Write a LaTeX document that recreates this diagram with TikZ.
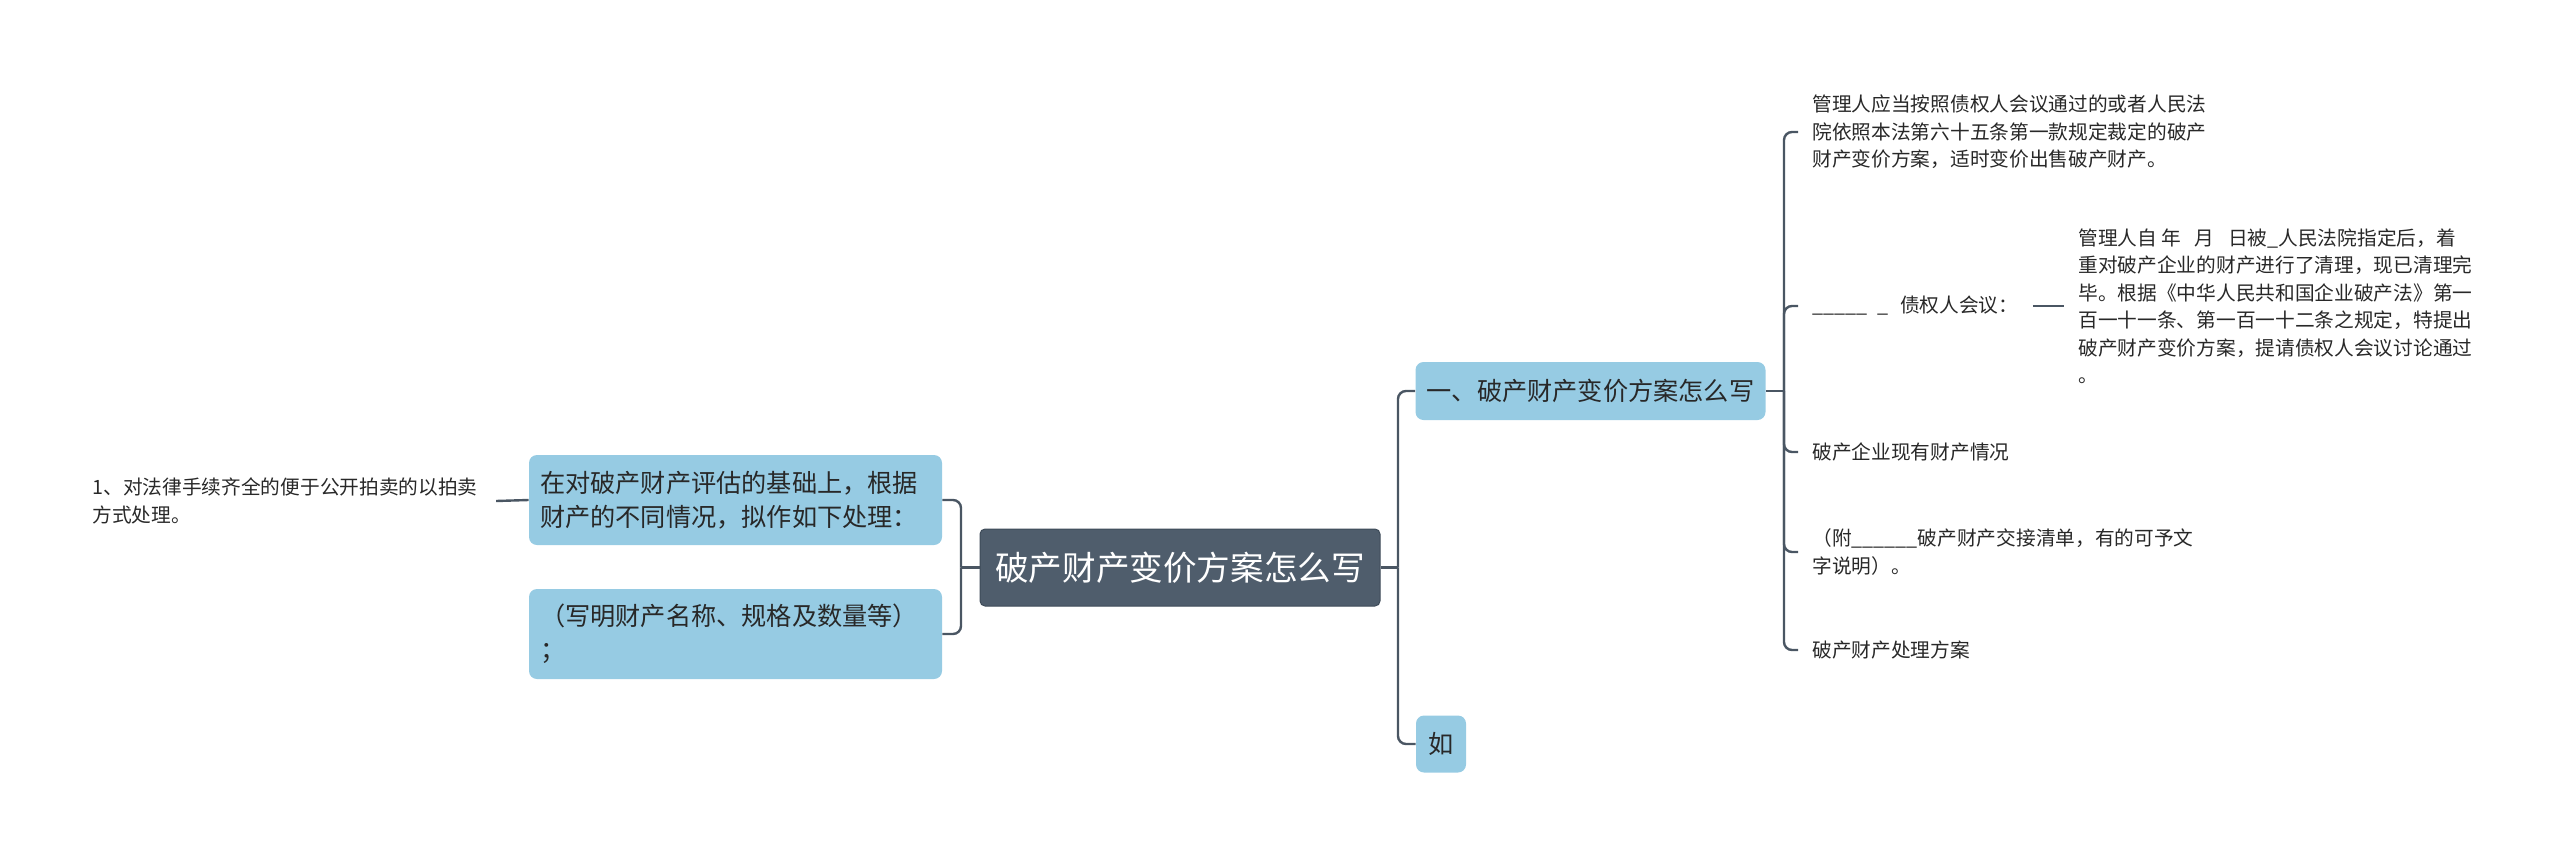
\documentclass[tikz,border=0pt]{standalone}
\usepackage{fontspec}
\setmainfont{Noto Sans CJK SC}
\definecolor{rootC}{RGB}{79,93,108}
\definecolor{rootD}{RGB}{62,75,89}
\definecolor{boxC}{RGB}{150,203,227}
\definecolor{lineC}{RGB}{74,86,99}
\definecolor{textC}{RGB}{40,40,40}
\tikzset{
  conn/.style={line width=1.2pt, draw=lineC, rounded corners=4pt},
  rootbox/.style={fill=rootC, draw=rootD, line width=0.5pt, rounded corners=2.5pt, text=white,
    font=\fontsize{16.8}{20}\selectfont, minimum width=200pt, minimum height=38.5pt, inner sep=0pt},
  subbox/.style={fill=boxC, draw=none, rounded corners=4pt, text=textC,
    font=\fontsize{12.6}{17}\selectfont, inner sep=0pt},
  leaf/.style={text=textC, font=\fontsize{9.85}{13.75}\selectfont, align=left, inner xsep=7pt, inner ysep=2pt, anchor=west},
}
\begin{document}
\begin{tikzpicture}[x=0.5pt,y=-0.5pt]
\useasboundingbox (0,0) rectangle (2560,857);
% central node
\node[rootbox] (root) at (1180,567.5) {破产财产变价方案怎么写};
% right main branches
\node[subbox, minimum width=175pt, minimum height=29pt] (A) at (1590.5,391) {一、破产财产变价方案怎么写};
\node[subbox, minimum width=25pt, minimum height=28.5pt] (B) at (1441,744) {如};
% left branches
\node[subbox, minimum width=206.5pt, minimum height=45pt, text width=195.5pt, align=left] (L1) at (735.5,500)
  {在对破产财产评估的基础上，根据\\财产的不同情况，拟作如下处理：};
\node[subbox, minimum width=206.5pt, minimum height=45pt, text width=195.5pt, align=left] (L2) at (735.5,634)
  {（写明财产名称、规格及数量等）\\；};
\node[leaf, inner xsep=9pt] (LL) at (74,501)
  {1、对法律手续齐全的便于公开拍卖的以拍卖\\方式处理。};
% leaves of A
\node[leaf] (R1) at (1798,132)
  {管理人应当按照债权人会议通过的或者人民法\\院依照本法第六十五条第一款规定裁定的破产\\财产变价方案，适时变价出售破产财产。};
\node[leaf] (R2) at (1798,306) {\_\_\_\_\_\hspace{0.5em}\_\hspace{0.6em}债权人会议：};
\node[leaf] (R2c) at (2064,306)
  {管理人自\hspace{0.2em}年\hspace{0.7em}月\hspace{0.7em}日被\_人民法院指定后，着\\重对破产企业的财产进行了清理，现已清理完\\毕。根据《中华人民共和国企业破产法》第一\\百一十一条、第一百一十二条之规定，特提出\\破产财产变价方案，提请债权人会议讨论通过\\。};
\node[leaf] (R3) at (1798,452) {破产企业现有财产情况};
\node[leaf] (R4) at (1798,552)
  {（附\_\_\_\_\_\_破产财产交接清单，有的可予文\\字说明）。};
\node[leaf] (R5) at (1798,650) {破产财产处理方案};
% connectors
\coordinate (jR) at (1398,567.5);
\coordinate (jL) at (961,567.5);
\coordinate (jA) at (1784,391);
\draw[conn] (root.east) -- (jR);
\draw[conn] (jR) |- (A.west);
\draw[conn] (jR) |- (B.west);
\draw[conn] (root.west) -- (jL);
\draw[conn] (jL) |- (L1.east);
\draw[conn] (jL) |- (L2.east);
\draw[conn] (L1.west) -- (LL.east);
\draw[conn] (A.east) -- (jA);
\draw[conn] (jA) |- (R1.west);
\draw[conn] (jA) |- (R2.west);
\draw[conn] (jA) |- (R3.west);
\draw[conn] (jA) |- (R4.west);
\draw[conn] (jA) |- (R5.west);
\draw[conn] (R2.east) -- (R2c.west);
\end{tikzpicture}
\end{document}
